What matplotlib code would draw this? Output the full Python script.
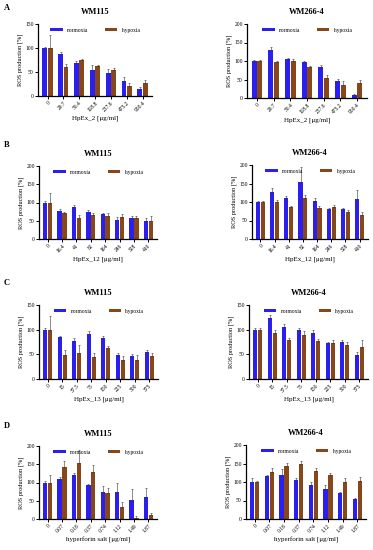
import numpy as np
import matplotlib
matplotlib.use("Agg")
import matplotlib.pyplot as plt

plt.rcParams['font.family'] = ['Liberation Serif', 'DejaVu Serif']

# --- data ---
conc_A = ["0", "29.7", "59.4", "118.8", "237.6", "475.2", "950.4"]
conc_B = ["0", "16.4", "41", "82", "164", "246", "328", "410"]
conc_C = ["0", "15", "37.5", "75", "150", "225", "300", "375"]
conc_D = ["0", "0.07", "0.18", "0.37", "0.74", "1.12", "1.49", "1.87"]

A115_norm = [100, 87, 68, 54, 48, 31, 15]
A115_hyp = [100, 60, 74, 62, 54, 20, 27]
A115_norm_err = [3, 5, 4, 10, 8, 8, 3]
A115_hyp_err = [28, 6, 4, 3, 5, 8, 6]

A266_norm = [100, 131, 105, 96, 84, 46, 8]
A266_hyp = [100, 96, 101, 84, 55, 36, 40]
A266_norm_err = [3, 8, 4, 4, 4, 5, 3]
A266_hyp_err = [3, 5, 5, 3, 8, 10, 10]

B115_norm = [100, 76, 88, 75, 68, 53, 58, 50]
B115_hyp = [100, 70, 58, 66, 64, 60, 58, 50]
B115_norm_err = [5, 5, 5, 4, 4, 6, 5, 8]
B115_hyp_err = [25, 5, 8, 5, 8, 8, 5, 12]

B266_norm = [100, 126, 112, 155, 104, 81, 80, 107]
B266_hyp = [100, 100, 86, 112, 83, 86, 73, 66]
B266_norm_err = [4, 12, 3, 40, 8, 4, 5, 25]
B266_hyp_err = [3, 5, 3, 6, 5, 5, 5, 6]

C115_norm = [100, 85, 77, 92, 84, 49, 47, 55]
C115_hyp = [100, 48, 53, 44, 63, 38, 38, 47]
C115_norm_err = [4, 3, 6, 5, 4, 3, 3, 3]
C115_hyp_err = [28, 10, 15, 8, 4, 8, 10, 6]

C266_norm = [100, 124, 106, 99, 94, 72, 74, 48]
C266_hyp = [100, 94, 80, 89, 78, 73, 68, 65]
C266_norm_err = [4, 6, 5, 4, 5, 3, 6, 6]
C266_hyp_err = [3, 6, 3, 8, 3, 6, 8, 14]

D115_norm = [100, 110, 120, 92, 75, 73, 52, 60]
D115_hyp = [100, 143, 153, 130, 72, 32, 2, 12]
D115_norm_err = [3, 5, 5, 5, 15, 25, 30, 25]
D115_hyp_err = [20, 15, 35, 18, 12, 15, 5, 5]

D266_norm = [100, 115, 118, 106, 91, 81, 71, 55]
D266_hyp = [100, 128, 143, 150, 130, 118, 100, 103]
D266_norm_err = [10, 4, 18, 5, 8, 10, 2, 2]
D266_hyp_err = [4, 10, 8, 8, 8, 5, 12, 10]

blue = '#2b1fef'
brown = '#874719'

W, H = 373, 550
fig = plt.figure(figsize=(W / 100, H / 100), dpi=100)


def panel(px, title, labels, norm, hyp, nerr, herr, ymax, xlabel):
    l, b, w, h = px
    ax = fig.add_axes([l / W, 1 - b / H, w / W, h / H])
    x = np.arange(len(labels))
    bw = 0.3
    ax.bar(x - bw / 2 - 0.02, norm, bw, color=blue, label='normoxia')
    ax.bar(x + bw / 2 + 0.02, hyp, bw, color=brown, label='hypoxia')
    ax.errorbar(x - bw / 2 - 0.02, norm, yerr=[np.zeros(len(norm)), nerr],
                fmt='none', ecolor='#333333', elinewidth=0.4, capsize=1, capthick=0.4)
    ax.errorbar(x + bw / 2 + 0.02, hyp, yerr=[np.zeros(len(hyp)), herr],
                fmt='none', ecolor='#333333', elinewidth=0.4, capsize=1, capthick=0.4)
    ax.set_ylim(0, ymax)
    ax.set_yticks(np.arange(0, ymax + 1, 50))
    ax.set_xlim(-0.6, len(labels) - 0.4)
    ax.set_xticks(x)
    ax.set_xticklabels(labels, rotation=45, ha='right', rotation_mode='anchor', fontsize=4)
    ax.tick_params(axis='y', labelsize=4, width=0.7, length=2, pad=1)
    ax.tick_params(axis='x', width=0.7, length=2, pad=1)
    for s in ['top', 'right']:
        ax.spines[s].set_visible(False)
    for s in ['left', 'bottom']:
        ax.spines[s].set_linewidth(0.9)
    ax.set_ylabel('ROS production [%]', fontsize=4.5, labelpad=2)
    ax.set_xlabel(xlabel, fontsize=5, labelpad=2)
    ax.set_title(title, fontsize=6, fontweight='bold', pad=7)
    ax.legend(loc='upper center', ncol=2, frameon=False, fontsize=4,
              handlelength=2.2, handleheight=0.6, columnspacing=3,
              bbox_to_anchor=(0.5, 1.02))
    return ax


panel((38, 96, 114, 72), 'WM115', conc_A, A115_norm, A115_hyp, A115_norm_err, A115_hyp_err, 150, 'HpEx_2 [μg/ml]')
panel((247, 98, 120, 74), 'WM266-4', conc_A, A266_norm, A266_hyp, A266_norm_err, A266_hyp_err, 200, 'HpEx_2 [μg/ml]')
panel((39, 239, 118, 73), 'WM115', conc_B, B115_norm, B115_hyp, B115_norm_err, B115_hyp_err, 200, 'HpEx_12 [μg/ml]')
panel((252, 239, 116, 74), 'WM266-4', conc_B, B266_norm, B266_hyp, B266_norm_err, B266_hyp_err, 200, 'HpEx_12 [μg/ml]')
panel((39, 379, 119, 74), 'WM115', conc_C, C115_norm, C115_hyp, C115_norm_err, C115_hyp_err, 150, 'HpEx_13 [μg/ml]')
panel((249, 379, 119, 74), 'WM266-4', conc_C, C266_norm, C266_hyp, C266_norm_err, C266_hyp_err, 150, 'HpEx_13 [μg/ml]')
panel((39, 519, 118, 73), 'WM115', conc_D, D115_norm, D115_hyp, D115_norm_err, D115_hyp_err, 200, 'hyperforin salt [μg/ml]')
panel((246, 519, 120, 74), 'WM266-4', conc_D, D266_norm, D266_hyp, D266_norm_err, D266_hyp_err, 200, 'hyperforin salt [μg/ml]')

for lab, y in zip(['A', 'B', 'C', 'D'], [8, 145, 283, 426]):
    fig.text(4 / W, 1 - y / H, lab, fontsize=6, fontweight='bold', va='center', ha='left')

fig.savefig('out.png', dpi=100)
